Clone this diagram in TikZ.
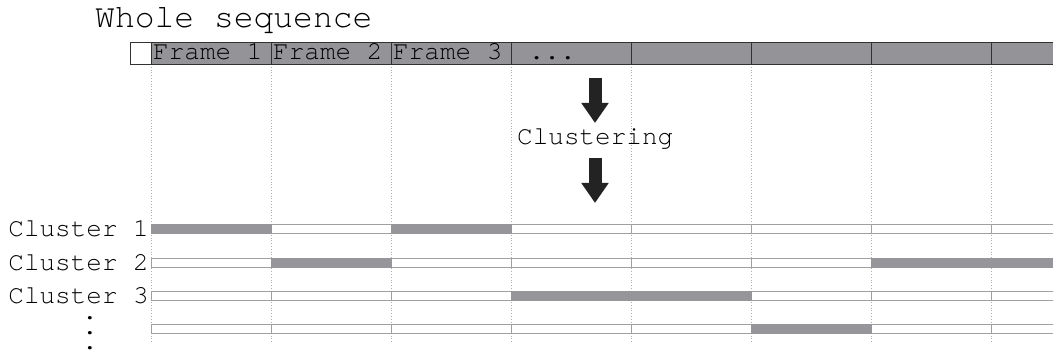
\documentclass[tikz,border=0pt]{standalone}
\usepackage{fontspec}
\setmonofont{TeX Gyre Cursor}
\usetikzlibrary{arrows.meta}
\definecolor{barfill}{RGB}{147,147,152}
\definecolor{edgec}{RGB}{50,50,50}
\definecolor{rowedge}{RGB}{160,160,160}
\definecolor{segfill}{RGB}{150,150,154}
\definecolor{guide}{RGB}{175,175,175}
\definecolor{arrowc}{RGB}{35,35,35}
\tikzset{
  bigtxt/.style={font=\fontsize{33}{33}\selectfont\ttfamily, inner sep=0pt},
  smalltxt/.style={font=\fontsize{26}{26}\selectfont\ttfamily, inner sep=0pt},
  dottxt/.style={font=\fontsize{26}{15}\selectfont\ttfamily, inner sep=0pt, align=center},
  framecell/.style={draw=edgec, fill=barfill, line width=1.3pt, minimum width=120pt, minimum height=22pt, inner sep=0pt, anchor=north west},
  blankcell/.style={draw=edgec, fill=white, line width=1.3pt, minimum width=21pt, minimum height=22pt, inner sep=0pt, anchor=north west},
  rowcell/.style={draw=rowedge, fill=white, line width=1.1pt, minimum width=120pt, minimum height=9pt, inner sep=0pt, anchor=north west},
  segcell/.style={draw=segfill, fill=segfill, line width=1.1pt, minimum height=9pt, inner sep=0pt, anchor=north west},
  guideline/.style={draw=guide, line width=0.8pt, dotted},
  bigarrow/.style={draw=arrowc, line width=13pt, line cap=butt, -{Triangle[width=26pt,length=20pt]}}
}
\begin{document}
\begin{tikzpicture}[x=1pt,y=-1pt]
\useasboundingbox (0,0) rectangle (1053,352);
\clip (0,0) rectangle (1053,352);
% dotted guides
\foreach \i [evaluate=\i as \x using {151+120*\i}] in {0,...,7} {
  \coordinate (gt\i) at (\x,64);
  \coordinate (gb\i) at (\x,343);
  \draw[guideline] (gt\i) -- (gb\i);
}
% title
\node[bigtxt, anchor=base west] (title) at (95,28) {Whole sequence};
% top bar
\node[blankcell] (blank) at (130,42) {};
\foreach \i [evaluate=\i as \x using {151+120*\i}] in {0,...,7} {
  \node[framecell] (f\i) at (\x,42) {};
}
\node[smalltxt, anchor=base west] (l1) at (153,60) {Frame 1};
\node[smalltxt, anchor=base west] (l2) at (273,60) {Frame 2};
\node[smalltxt, anchor=base west] (l3) at (393,60) {Frame 3};
\node[smalltxt, anchor=base west] (l4) at (513,60) {\ ...};
% clustering arrows
\coordinate (a1s) at (595,78);
\coordinate (a1e) at (595,123);
\coordinate (a2s) at (595,158);
\coordinate (a2e) at (595,203);
\draw[bigarrow] (a1s) -- (a1e);
\node[smalltxt, anchor=base west] (clus) at (517,145) {Clustering};
\draw[bigarrow] (a2s) -- (a2e);
% cluster rows
\foreach \r/\y in {1/224,2/258,3/291,4/324} {
  \foreach \i [evaluate=\i as \x using {151+120*\i}] in {0,...,7} {
    \node[rowcell] (r\r c\i) at (\x,\y) {};
  }
}
\node[segcell, minimum width=120pt] (s1a) at (151,224) {};
\node[segcell, minimum width=120pt] (s1b) at (391,224) {};
\node[segcell, minimum width=120pt] (s2a) at (271,258) {};
\node[segcell, minimum width=240pt] (s2b) at (871,258) {};
\node[segcell, minimum width=240pt] (s3a) at (511,291) {};
\node[segcell, minimum width=120pt] (s4a) at (751,324) {};
% labels
\node[smalltxt, anchor=base east] (c1) at (149,237) {Cluster 1};
\node[smalltxt, anchor=base east] (c2) at (149,271) {Cluster 2};
\node[smalltxt, anchor=base east] (c3) at (149,304) {Cluster 3};
\node[dottxt, anchor=north] (vd) at (90,316) {.\\.\\.};
\end{tikzpicture}
\end{document}
